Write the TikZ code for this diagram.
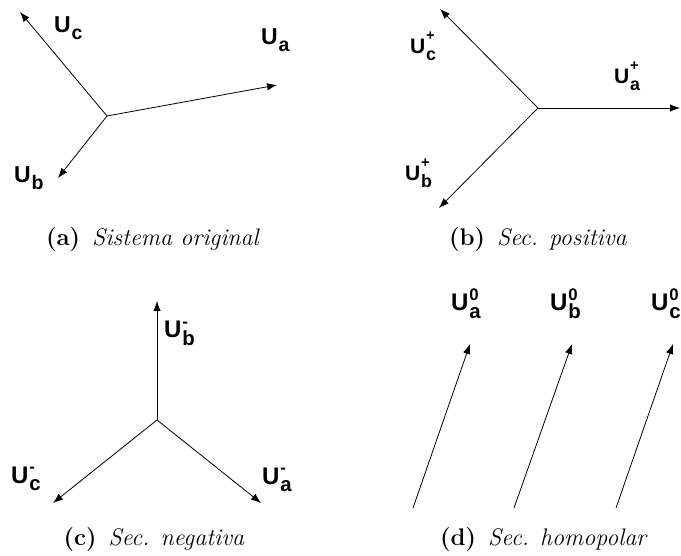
\documentclass[tikz,border=0pt]{standalone}
\usepackage{fontspec}
\usepackage{graphicx}
\newfontfamily\arialf{Liberation Sans}
\usetikzlibrary{arrows.meta}
% #1 sub, #2 sup, #3 sup raise (em)
\newcommand\phs[3]{U\kern0.04em\rlap{\raisebox{#3em}{\scalebox{0.7}{#2}}}\raisebox{-0.3em}{\scalebox{0.85}{#1}}}
\begin{document}
\begin{tikzpicture}[x=1pt,y=-1pt,
  vec/.style={line width=0.8pt,-{Latex[length=10pt,width=7.5pt]}},
  lbl/.style={anchor=base west,inner sep=0pt,font=\arialf\bfseries\fontsize{#1}{#1}\selectfont},
  subcap/.style={inner sep=0pt,font=\fontsize{24}{28}\selectfont}]
\useasboundingbox (0,0) rectangle (681,556);
% (a)
\coordinate (oa) at (107,116);
\coordinate (aa) at (277,85);
\coordinate (ab) at (58,178);
\coordinate (ac) at (20,12);
\draw[vec] (oa) -- (aa);
\draw[vec] (oa) -- (ab);
\draw[vec] (oa) -- (ac);
\node[lbl=23] (la) at (261,45) {\phs{a}{}{0}};
\node[lbl=23] (lb) at (14,183) {\phs{b}{}{0}};
\node[lbl=23] (lc) at (54,33) {\phs{c}{}{0}};
\node[subcap] (capa) at (153,240) {\textbf{(a)}\enspace\textit{Sistema original}};
% (b)
\coordinate (ob) at (538,108);
\coordinate (ba) at (680,108);
\coordinate (bb) at (439,208);
\coordinate (bc) at (440,9);
\draw[vec] (ob) -- (ba);
\draw[vec] (ob) -- (bb);
\draw[vec] (ob) -- (bc);
\node[lbl=21] (lpa) at (614,84) {\phs{a}{+}{0.62}};
\node[lbl=21] (lpb) at (405,181) {\phs{b}{+}{0.62}};
\node[lbl=21] (lpc) at (410,54) {\phs{c}{+}{0.62}};
\node[subcap] (capb) at (538,240) {\textbf{(b)}\enspace\textit{Sec. positiva}};
% (c)
\coordinate (oc) at (157,420);
\coordinate (ca) at (261,503);
\coordinate (cb) at (157,301);
\coordinate (cc) at (53,503);
\draw[vec] (oc) -- (ca);
\draw[vec] (oc) -- (cb);
\draw[vec] (oc) -- (cc);
\node[lbl=24] (lna) at (262,484) {\phs{a}{-}{0.42}};
\node[lbl=24] (lnb) at (164,338) {\phs{b}{-}{0.42}};
\node[lbl=24] (lnc) at (11,483) {\phs{c}{-}{0.42}};
\node[subcap] (capc) at (154,540) {\textbf{(c)}\enspace\textit{Sec. negativa}};
% (d)
\coordinate (d1s) at (413,508);
\coordinate (d1t) at (470,344);
\coordinate (d2s) at (514,508);
\coordinate (d2t) at (572,344);
\coordinate (d3s) at (616,508);
\coordinate (d3t) at (673,344);
\draw[vec] (d1s) -- (d1t);
\draw[vec] (d2s) -- (d2t);
\draw[vec] (d3s) -- (d3t);
\node[lbl=24] (lza) at (451,311) {\phs{a}{0}{0.45}};
\node[lbl=24] (lzb) at (550,311) {\phs{b}{0}{0.45}};
\node[lbl=24] (lzc) at (651,311) {\phs{c}{0}{0.45}};
\node[subcap] (capd) at (544,540) {\textbf{(d)}\enspace\textit{Sec. homopolar}};
\end{tikzpicture}
\end{document}
